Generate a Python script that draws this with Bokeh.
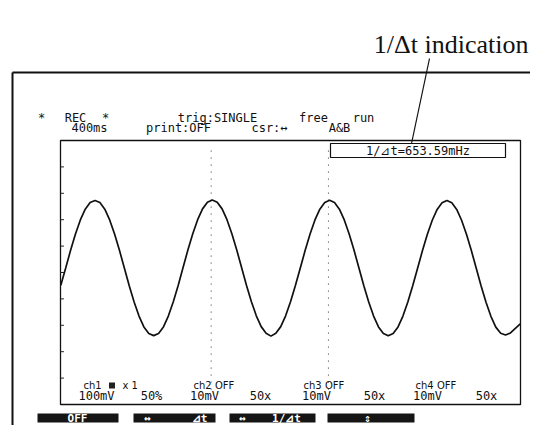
from bokeh.plotting import figure
from bokeh.models import Range1d
from bokeh.embed import file_html
from bokeh.resources import INLINE
from bokeh.core.properties import value

TIME_PER_DIV = 0.4      # s / div  ("400ms")
H_DIVS = 15
VOLT_PER_DIV = 100      # mV / div ("100mV")
V_DIVS = 10

SAMPLE_T0 = 0.004       # s, first sample
SAMPLE_DT = 0.06375     # s, sample interval
CH1_MV = [
    -48,
    17, 84, 146, 199, 240, 265, 273, 265, 240, 199, 146, 84,
    17, -50, -112, -165, -206, -231, -239, -231, -206, -165, -112, -50,
    18, 85, 147, 200, 241, 266, 275, 266, 241, 200, 147, 85,
    18, -49, -111, -164, -205, -230, -241, -230, -205, -164, -111, -49,
    17, 84, 146, 199, 240, 265, 274, 265, 240, 199, 146, 84,
    17, -50, -112, -165, -206, -231, -240, -231, -206, -165, -112, -50,
    16, 83, 145, 198, 239, 264, 273, 264, 239, 198, 145, 83,
    16, -51, -113, -166, -207, -230, -237, -229, -212, -195,
]
CH1_T = [SAMPLE_T0 + i * SAMPLE_DT for i in range(len(CH1_MV))]

CURSOR_A = 1.965        # s
CURSOR_B = 3.495        # s

HEADER_1 = ["*", "REC", "*", "trig:SINGLE", "free", "run"]
HEADER_2 = ["400ms", "print:OFF", "csr:\u2194", "A&B"]
CH_NAMES = ["ch1", "ch2 OFF", "ch3 OFF", "ch4 OFF"]
CH_RANGE = ["100mV", "10mV", "10mV", "10mV"]
CH_POS = ["50%", "50x", "50x", "50x"]
SOFTKEYS = [["OFF"], ["\u2194", "\u22bft"], ["\u2194", "1/\u22bft"], ["\u21d5"]]
TITLE = "1/\u0394t indication"
READOUT = "1/\u22bft=%.2fmHz" % (1000.0 / (CURSOR_B - CURSOR_A))

# ---------------- layout (picture pixel coordinates) ----------------
W, H = 530, 425
SCR_L, SCR_R, SCR_T, SCR_B = 60, 520, 140, 404
T_SPAN = TIME_PER_DIV * H_DIVS
V_SPAN = VOLT_PER_DIV * V_DIVS
pps = (SCR_R - SCR_L) / T_SPAN
mpp = V_SPAN / (SCR_B - SCR_T)

x_range = Range1d(-SCR_L / pps, T_SPAN + (W - SCR_R) / pps)
y_range = Range1d(-V_SPAN / 2 - (H - SCR_B) * mpp, V_SPAN / 2 + SCR_T * mpp)

p = figure(width=W, height=H, x_range=x_range, y_range=y_range,
           output_backend="svg", toolbar_location=None, min_border=0,
           x_axis_location=None, y_axis_location=None)
p.grid.visible = False
p.outline_line_color = None
p.background_fill_color = "white"
p.border_fill_color = "white"
p.extra_x_ranges = {"px": Range1d(0, W)}
p.extra_y_ranges = {"px": Range1d(H, 0)}
PX = dict(x_range_name="px", y_range_name="px")

MONO = value("DejaVu Sans Mono")

# outer document frame
p.segment(x0=[12, 12], y0=[72, 72], x1=[W, 12], y1=[72, H],
          line_color="#111111", line_width=2, **PX)

# annotation title + leader
p.text(x=[528], y=[44], text=[TITLE], text_font=value("Liberation Serif"),
       text_font_size="26px", text_align="right", text_baseline="alphabetic",
       text_color="#111111", **PX)
p.segment(x0=[429], y0=[58], x1=[411], y1=[143], line_color="#111111", line_width=1.2, **PX)

# header texts
h1x = [41, 75, 105, 217, 313, 363]
h2x = [89, 178, 269, 339]
p.text(x=h1x, y=[117] * len(h1x), text=HEADER_1, text_font=MONO, text_font_size="12px",
       text_align="center", text_baseline="middle", text_color="#111111", **PX)
p.text(x=h2x, y=[127] * len(h2x), text=HEADER_2, text_font=MONO, text_font_size="12px",
       text_align="center", text_baseline="middle", text_color="#111111", **PX)

# screen box
p.quad(left=[SCR_L], right=[SCR_R], top=[SCR_T], bottom=[SCR_B], fill_color=None,
       line_color="#111111", line_width=1.3, **PX)

# left division ticks
tick_v = [VOLT_PER_DIV * k for k in range(-(V_DIVS // 2) + 1, V_DIVS // 2)]
p.segment(x0=[0] * len(tick_v), x1=[0.045] * len(tick_v), y0=tick_v, y1=tick_v,
          line_color="#222222", line_width=1)

# cursors A, B
p.segment(x0=[CURSOR_A, CURSOR_B], x1=[CURSOR_A, CURSOR_B], y0=[-470, -470], y1=[470, 470],
          line_color="#333333", line_width=1, line_dash="1 6")

# readout box
p.quad(left=[330], right=[505], top=[143], bottom=[157], fill_color="white",
       line_color="#111111", line_width=1.2, **PX)
p.text(x=[417.5], y=[150.5], text=[READOUT], text_font=MONO, text_font_size="12px",
       text_align="center", text_baseline="middle", text_color="#111111", **PX)

# waveform
p.line(x=CH1_T, y=CH1_MV, line_color="#111111", line_width=1.7)

# channel labels
p.text(x=[83, 193, 303, 415], y=[385] * 4, text=CH_NAMES, text_font=value("DejaVu Sans"),
       text_font_size="10px", text_align="left", text_baseline="middle",
       text_color="#111111", **PX)
p.rect(x=[111.5], y=[385], width=[6], height=[6], fill_color="#222222", line_color=None, **PX)
p.text(x=[122], y=[385], text=["x 1"], text_font=value("DejaVu Sans"),
       text_font_size="10px", text_align="left", text_baseline="middle",
       text_color="#111111", **PX)
p.text(x=[96, 204, 316, 427], y=[395] * 4, text=CH_RANGE, text_font=MONO, text_font_size="12px",
       text_align="center", text_baseline="middle", text_color="#111111", **PX)
p.text(x=[151, 260, 374, 486], y=[395] * 4, text=CH_POS, text_font=MONO, text_font_size="12px",
       text_align="center", text_baseline="middle", text_color="#111111", **PX)

# soft keys
kl = [37, 133, 229, 327]
kr = [118, 215, 315, 414]
p.quad(left=kl, right=kr, top=[413] * 4, bottom=[422] * 4, fill_color="#151515",
       line_color=None, **PX)
kx = [[77], [147, 199], [242, 286], [367]]
tx, tt = [], []
for xs, labels in zip(kx, SOFTKEYS):
    tx += xs
    tt += labels
p.text(x=tx, y=[417.5] * len(tx), text=tt, text_font=MONO, text_font_size="11px",
       text_font_style="bold", text_align="center", text_baseline="middle",
       text_color="white", **PX)

open("out.html", "w").write(file_html(p, INLINE))
